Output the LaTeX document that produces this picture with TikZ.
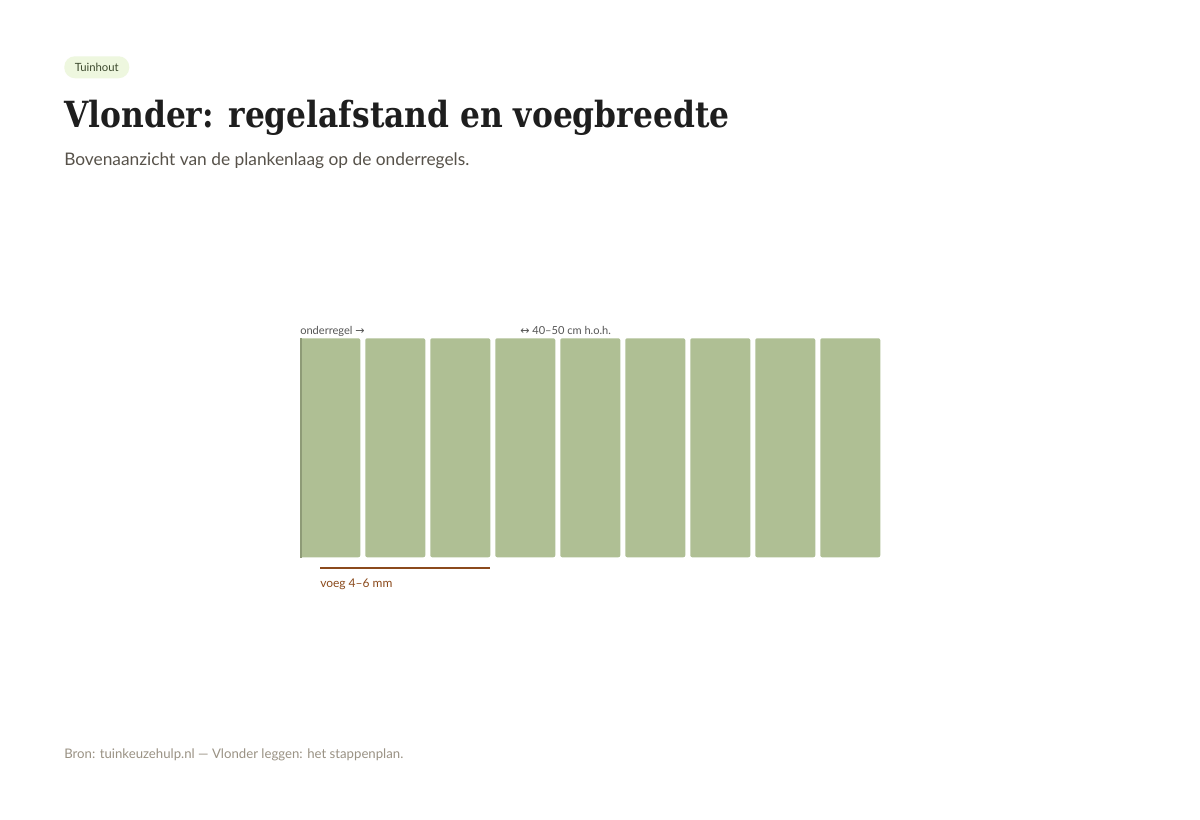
\documentclass[tikz,border=0pt]{standalone}
\usepackage{fontspec}
\usepackage{graphicx}
\setmainfont{Lato}
\newfontfamily\titlefont{DejaVu Serif}
\newfontfamily\symfont{DejaVu Sans}
\definecolor{plank}{HTML}{AFBF94}
\definecolor{plankedge}{HTML}{8E9B77}
\definecolor{tagbg}{HTML}{EEF7DF}
\definecolor{tagfg}{HTML}{3D4A2E}
\definecolor{titlec}{HTML}{1E1E1E}
\definecolor{subc}{HTML}{57524A}
\definecolor{footc}{HTML}{9A9284}
\definecolor{brownc}{HTML}{8B4A1C}
\definecolor{labc}{HTML}{555555}
\begin{document}
\begin{tikzpicture}[x=0.75pt,y=-0.75pt,
  plankbox/.style={fill=plank,draw=none,rounded corners=1.5pt,minimum width=45pt,minimum height=164.25pt,inner sep=0pt,anchor=north west},
  txt/.style={inner sep=0pt,anchor=base west},
]
\useasboundingbox[fill=white] (0,0) rectangle (1200,820);
% tag
\node[fill=tagbg,rounded corners=8pt,minimum width=48.75pt,minimum height=16.5pt,inner sep=0pt,anchor=north west,text=tagfg,font=\fontsize{8.5}{10}\selectfont] (tag) at (64,56) {Tuinhout};
% title
\node[txt,text=titlec,font=\titlefont\bfseries\fontsize{27}{30}\selectfont] (title) at (64,128) {\scalebox{0.87}[1]{Vlonder: regelafstand en voegbreedte}};
\node[txt,text=subc,font=\fontsize{13}{15}\selectfont] (sub) at (64,166) {Bovenaanzicht van de plankenlaag op de onderregels.};
% planks
\foreach \i in {0,...,8} {
  \node[plankbox] (p\i) at ({300+65*\i},338) {};
}
% onderregel edge
\fill[plankedge] (p0.north west) rectangle ([xshift=1.5pt]p0.south west);
% labels
\node[txt,text=labc,font=\fontsize{8.3}{9}\selectfont] (lreg) at (300,334) {onderregel {\symfont →}};
\node[txt,text=labc,font=\fontsize{8.3}{9}\selectfont] (lhoh) at (520,334) {{\symfont ↔} 40–50 cm h.o.h.};
% voeg
\coordinate (v1) at (320,568);
\coordinate (v2) at (490,568);
\draw[brownc,line width=1.5pt] (v1) -- (v2);
\node[txt,text=brownc,font=\fontsize{9}{10}\selectfont] (lvoeg) at (320,587) {voeg 4–6 mm};
% footer
\node[txt,text=footc,font=\fontsize{9.9}{11}\selectfont] (foot) at (64,758) {Bron: tuinkeuzehulp.nl — Vlonder leggen: het stappenplan.};
\end{tikzpicture}
\end{document}
